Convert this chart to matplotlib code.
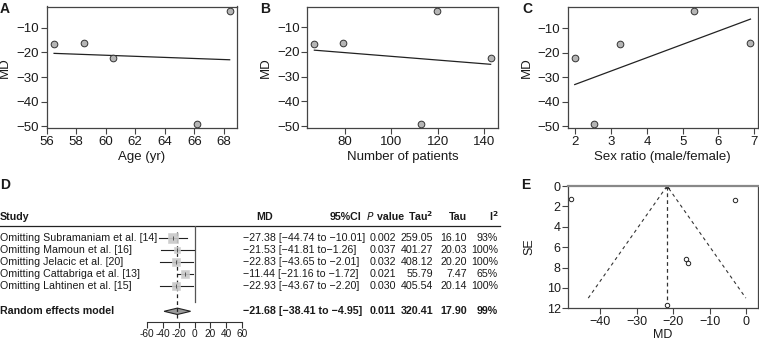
import matplotlib
matplotlib.use("Agg")
import matplotlib.pyplot as plt
import numpy as np
from matplotlib.patches import Polygon

plt.rcParams['font.family'] = ['Liberation Sans', 'DejaVu Sans']
plt.rcParams['axes.unicode_minus'] = True

W, H = 759, 344
fig = plt.figure(figsize=(W / 100, H / 100), dpi=100)

def ax_px(l, t, r, b, **kw):
    return fig.add_axes([l / W, 1 - b / H, (r - l) / W, (b - t) / H], **kw)

# ---------------- data ----------------
md_A = [-16.7, -16.2, -22.1, -49.0, -3.2]
age = [56.5, 58.5, 60.5, 66.2, 68.4]
fit_A = [-20.4, -23.0]

n_pat = [67.0, 79.1, 113.0, 119.7, 142.7]
md_B = [-17.0, -16.5, -49.0, -3.5, -22.3]
fit_B = [-19.3, -25.0]

sex_ratio = [1.98, 2.52, 3.25, 5.32, 6.9]
md_C = [-22.0, -49.0, -16.6, -3.0, -16.2]
fit_C = [-33.0, -6.3]

studies = ["Omitting Subramaniam et al. [14]", "Omitting Mamoun et al. [16]",
           "Omitting Jelacic et al. [20]", "Omitting Cattabriga et al. [13]",
           "Omitting Lahtinen et al. [15]"]
loo_md = [-27.38, -21.53, -22.83, -11.44, -22.93]
loo_lo = [-44.74, -41.81, -43.65, -21.16, -43.67]
loo_hi = [-10.01, -1.26, -2.01, -1.72, -2.20]
loo_ci_txt = ["[\u221244.74 to \u221210.01]", "[\u221241.81 to\u22121.26]",
              "[\u221243.65 to \u22122.01]", "[\u221221.16 to \u22121.72]",
              "[\u221243.67 to \u22122.20]"]
loo_p = ["0.002", "0.037", "0.032", "0.021", "0.030"]
loo_tau2 = ["259.05", "401.27", "408.12", "55.79", "405.54"]
loo_tau = ["16.10", "20.03", "20.20", "7.47", "20.14"]
loo_i2 = ["93%", "100%", "100%", "65%", "100%"]
loo_wt = [1.0, 0.55, 0.75, 0.85, 0.6]
re_md, re_lo, re_hi = -21.68, -38.41, -4.95
re_ci_txt = "[\u221238.41 to \u22124.95]"
re_p, re_tau2, re_tau, re_i2 = "0.011", "320.41", "17.90", "99%"
forest_ticks = [-60, -40, -20, 0, 20, 40, 60]

fun_md = [-48.0, -3.0, -16.6, -16.0, -21.8]
fun_se = [1.3, 1.4, 7.2, 7.6, 11.68]
fun_center = -21.68
fun_se_max = 11.0

TXT = '#1a1a1a'
AXC = '#444444'

# ---------------- scatter panels ----------------
def scatter_panel(box, x, y, fit, xticks, xlabel, letter, letter_x, ylab_x):
    l, t, r, b = box
    ax = ax_px(l, t, r, b)
    ax.plot([min(x), max(x)], fit, color='#222222', lw=0.9)
    ax.plot(x, y, 'o', ms=4.8, mfc='#b5b5b5', mec='#333333', mew=0.7)
    xr = max(x) - min(x)
    ax.set_xlim(min(x) - 0.04 * xr, max(x) + 0.04 * xr)
    yr = max(y) - min(y)
    ax.set_ylim(min(y) - 0.04 * yr, max(y) + 0.04 * yr)
    ax.set_yticks([-10, -20, -30, -40, -50])
    ax.set_xticks(xticks)
    for s in ax.spines.values():
        s.set_color(AXC)
        s.set_linewidth(0.9)
    ax.tick_params(direction='out', length=4, width=0.8, color=AXC,
                   labelsize=9.5, labelcolor=TXT, pad=1.5)
    ax.set_xlabel(xlabel, fontsize=9.5, color=TXT, labelpad=2.5)
    ax.set_ylabel("MD", fontsize=9.5, color=TXT)
    ax.yaxis.set_label_coords((ylab_x - l) / (r - l), 0.5)
    fig.text(letter_x / W, 1 - 9 / H, letter, fontsize=10, fontweight='bold',
             color=TXT, va='center', ha='left')
    return ax

scatter_panel((46.7, 6.5, 236.7, 128.3), age, md_A, fit_A, [56, 58, 60, 62, 64, 66, 68],
              "Age (yr)", "A", 0, 11)
scatter_panel((307.3, 6.5, 497.7, 128.3), n_pat, md_B, fit_B, [80, 100, 120, 140],
              "Number of patients", "B", 260, 272)
scatter_panel((567.7, 6.5, 757.5, 128.3), sex_ratio, md_C, fit_C, [2, 3, 4, 5, 6, 7],
              "Sex ratio (male/female)", "C", 522, 533)

# ---------------- panel D: forest ----------------
ov = fig.add_axes([0, 0, 1, 1])
ov.set_xlim(0, W)
ov.set_ylim(H, 0)
ov.axis('off')

row_y = [238.3, 250.3, 262.3, 274.3, 286.3]
sum_y = 311.3
head_y = 216.5
fs = 7.7

ov.text(0, 185, "D", fontsize=10, fontweight='bold', color=TXT, va='center')
ov.text(0, head_y, "Study", fontsize=fs, fontweight='bold', va='center', color=TXT)
ov.text(265, head_y, "MD", fontsize=fs, fontweight='bold', va='center', ha='center', color=TXT)
ov.text(361.5, head_y, "95%CI", fontsize=fs, fontweight='bold', va='center', ha='right', color=TXT)
ov.text(366.5, head_y, r"$\bf{\it{P}}$", fontsize=fs, va='center', ha='left', color=TXT)
ov.text(374.5, head_y, " value", fontsize=fs, fontweight='bold', va='center', ha='left', color=TXT)
ov.text(433.3, head_y, "Tau$^\\mathbf{2}$", fontsize=fs, fontweight='bold', va='center', ha='right', color=TXT)
ov.text(467, head_y, "Tau", fontsize=fs, fontweight='bold', va='center', ha='right', color=TXT)
ov.text(499, head_y, "I$^\\mathbf{2}$", fontsize=fs, fontweight='bold', va='center', ha='right', color=TXT)
ov.plot([0, 500], [226, 226], color='#222222', lw=0.9)

for i, name in enumerate(studies):
    y = row_y[i]
    ov.text(0, y, name, fontsize=fs, va='center', color=TXT)
    md_s = f"{loo_md[i]:.2f}".replace('-', '\u2212')
    ov.text(243, y, md_s + " " + loo_ci_txt[i], fontsize=fs, va='center', color=TXT)
    ov.text(370, y, loo_p[i], fontsize=fs, va='center', color=TXT)
    ov.text(433.3, y, loo_tau2[i], fontsize=fs, va='center', ha='right', color=TXT)
    ov.text(467, y, loo_tau[i], fontsize=fs, va='center', ha='right', color=TXT)
    ov.text(498, y, loo_i2[i], fontsize=fs, va='center', ha='right', color=TXT)

y = sum_y
ov.text(0, y, "Random effects model", fontsize=fs, fontweight='bold', va='center', color=TXT)
ov.text(243, y, f"{re_md:.2f}".replace('-', '\u2212') + " " + re_ci_txt, fontsize=fs,
        fontweight='bold', va='center', color=TXT)
ov.text(370, y, re_p, fontsize=fs, fontweight='bold', va='center', color=TXT)
ov.text(433.3, y, re_tau2, fontsize=fs, fontweight='bold', va='center', ha='right', color=TXT)
ov.text(467, y, re_tau, fontsize=fs, fontweight='bold', va='center', ha='right', color=TXT)
ov.text(498, y, re_i2, fontsize=fs, fontweight='bold', va='center', ha='right', color=TXT)

# forest axes (x in MD units, y in pixel rows)
fa = ax_px(147, 226, 242, 321.5)
fa.set_xlim(forest_ticks[0], forest_ticks[-1])
fa.set_ylim(321.5, 226)
fa.patch.set_alpha(0)
for k in ['top', 'left', 'right']:
    fa.spines[k].set_visible(False)
fa.spines['bottom'].set_color('#333333')
fa.spines['bottom'].set_linewidth(0.8)
fa.set_yticks([])
fa.set_xticks(forest_ticks)
fa.set_xticklabels([str(v) for v in forest_ticks])
fa.tick_params(axis='x', direction='out', length=4, width=0.8, color='#333333',
               labelsize=7.3, labelcolor=TXT, pad=1.5)
fa.axvline(0, ymin=(321.5 - 302) / 95.5, ymax=1, color='#555555', lw=0.9)
fa.plot([re_md, re_md], [232, 318], color='#222222', lw=0.9, ls=(0, (3, 2.5)))
for i in range(5):
    y = row_y[i]
    fa.plot([loo_lo[i], loo_hi[i]], [y, y], color='#222222', lw=0.8, clip_on=False)
    s = 3.5 * loo_wt[i] + 3
    fa.plot([loo_md[i]], [y], 's', ms=s, mfc='#c8c8c8', mec='#d0d0d0', mew=0.5, alpha=0.9)
    fa.plot([loo_md[i]], [y], '|', ms=2.5, color='#555555', mew=0.7)
fa.add_patch(Polygon([[re_lo, sum_y], [re_md, sum_y - 3.2], [re_hi, sum_y], [re_md, sum_y + 3.2]],
                     closed=True, fc='#9a9a9a', ec='#222222', lw=0.8))

# ---------------- panel E: funnel ----------------
ea = ax_px(568.3, 186, 758, 308.3)
ea.set_xlim(-48.7, 3.2)
ea.set_ylim(12, 0)
ea.plot([fun_center - 1.96 * fun_se_max, fun_center, fun_center + 1.96 * fun_se_max],
        [fun_se_max, 0, fun_se_max], color='#333333', lw=0.8, ls=(0, (3, 3)))
ea.plot([fun_center, fun_center], [0, 12], color='#333333', lw=0.9, ls=(0, (3, 2.5)))
ea.plot([fun_center], [0.1], marker=(6, 2, 0), ms=4, color='#333333', mew=0.7)
ea.plot(fun_md, fun_se, 'o', ms=3.2, mfc='white', mec='#222222', mew=0.7)
ea.set_xticks([-40, -30, -20, -10, 0])
ea.set_yticks([0, 2, 4, 6, 8, 10, 12])
for k, s in ea.spines.items():
    s.set_color(AXC)
    s.set_linewidth(0.9)
ea.spines['top'].set_color('#888888')
ea.spines['top'].set_linewidth(1.6)
ea.tick_params(direction='out', length=4, width=0.8, color=AXC,
               labelsize=9, labelcolor=TXT, pad=1.5)
ea.set_xlabel("MD", fontsize=9, color=TXT, labelpad=1)
ea.set_ylabel("SE", fontsize=9, color=TXT)
ea.yaxis.set_label_coords((535 - 568.3) / (758 - 568.3), 0.5)
fig.text(521 / W, 1 - 185 / H, "E", fontsize=10, fontweight='bold', color=TXT, va='center')

fig.savefig("out.png", dpi=100)
